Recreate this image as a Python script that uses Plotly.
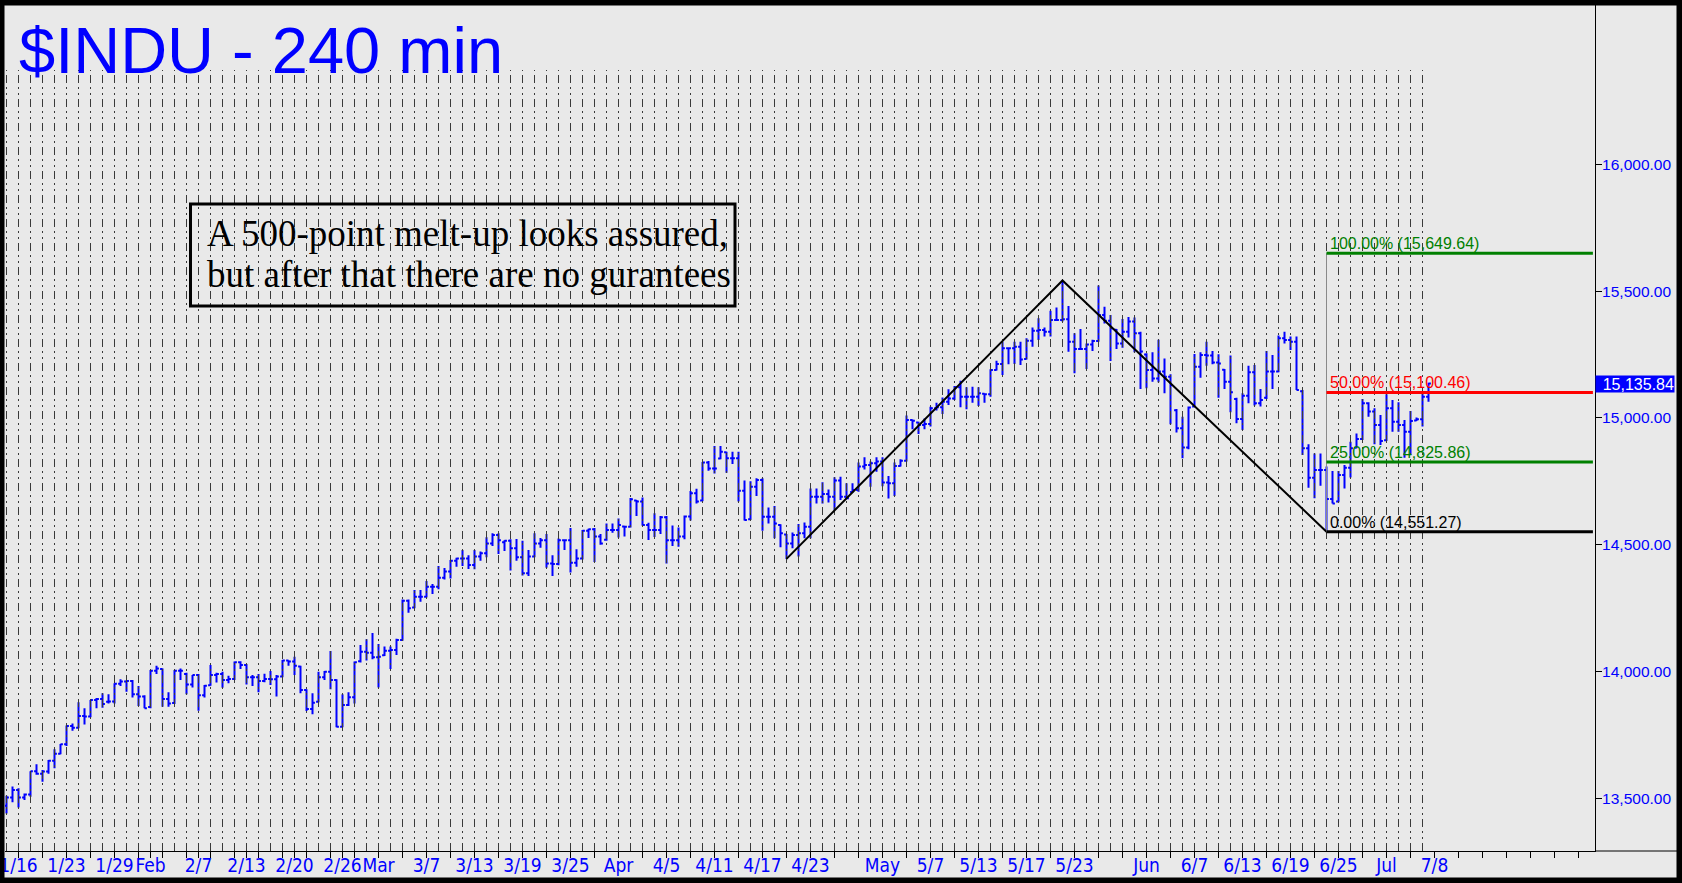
import plotly.graph_objects as go

# ------------------------------------------------------------------ data
# 240-minute OHLC bars ($INDU), two bars per trading day, 1/15 .. 7/5
OPEN = [13470, 13503, 13532, 13503, 13515, 13606, 13596, 13605, 13648, 13675,
        13713, 13785, 13778, 13824, 13822, 13887, 13891, 13880, 13881, 13951,
        13960, 13962, 13910, 13901, 13860, 14003, 14010, 13891, 13876, 14003,
        13990, 13949, 13986, 13906, 13946, 13986, 13990, 13966, 13970, 14036,
        14025, 13977, 13977, 13962, 13970, 13969, 13980, 14043, 14039, 14020,
        13927, 13852, 13880, 13977, 13999, 13966, 13782, 13868, 13898, 14040,
        14078, 14074, 14056, 14064, 14082, 14085, 14124, 14279, 14252, 14295,
        14295, 14334, 14334, 14370, 14394, 14437, 14446, 14446, 14420, 14453,
        14466, 14505, 14538, 14510, 14516, 14486, 14450, 14387, 14453, 14505,
        14518, 14426, 14424, 14518, 14518, 14429, 14446, 14555, 14561, 14532,
        14520, 14558, 14558, 14572, 14571, 14674, 14670, 14578, 14558, 14558,
        14608, 14518, 14518, 14532, 14611, 14703, 14674, 14824, 14801, 14840,
        14865, 14841, 14841, 14713, 14600, 14729, 14755, 14610, 14610, 14578,
        14540, 14505, 14538, 14545, 14571, 14689, 14689, 14700, 14689, 14753,
        14689, 14708, 14716, 14808, 14814, 14821, 14828, 14745, 14742, 14810,
        14831, 14992, 14982, 14972, 14976, 15038, 15042, 15064, 15077, 15121,
        15084, 15084, 15084, 15095, 15093, 15189, 15213, 15275, 15275, 15281,
        15233, 15305, 15344, 15347, 15340, 15386, 15386, 15389, 15301, 15272,
        15272, 15290, 15304, 15406, 15383, 15348, 15294, 15340, 15380, 15334,
        15250, 15189, 15156, 15183, 15163, 15030, 14959, 14883, 15045, 15202,
        15248, 15246, 15219, 15190, 15143, 15075, 14996, 15088, 15180, 15058,
        15080, 15183, 15183, 15314, 15307, 15301, 15105, 14880, 14764, 14795,
        14795, 14680, 14670, 14775, 14804, 14882, 14917, 15058, 15025, 14972,
        14912, 15038, 14985, 14972, 14946, 14990, 14995, 15084]

HIGH = [13510, 13546, 13539, 13519, 13606, 13634, 13611, 13651, 13693, 13714,
        13787, 13795, 13878, 13855, 13887, 13895, 13914, 13910, 13953, 13969,
        13965, 13966, 13943, 13906, 14006, 14022, 14012, 13918, 14006, 14012,
        13995, 13986, 13990, 13947, 14025, 13995, 13999, 13983, 14039, 14040,
        14029, 13986, 13990, 13991, 14002, 13986, 14045, 14044, 14058, 14022,
        13930, 13914, 13999, 14002, 14081, 13969, 13910, 13918, 14039, 14104,
        14127, 14152, 14108, 14098, 14098, 14129, 14284, 14284, 14321, 14321,
        14357, 14345, 14416, 14408, 14440, 14449, 14479, 14458, 14479, 14473,
        14529, 14545, 14545, 14518, 14521, 14522, 14516, 14479, 14545, 14526,
        14542, 14458, 14524, 14521, 14566, 14482, 14558, 14563, 14566, 14542,
        14584, 14584, 14603, 14574, 14684, 14676, 14686, 14587, 14624, 14613,
        14613, 14576, 14568, 14615, 14712, 14721, 14826, 14830, 14889, 14889,
        14867, 14867, 14867, 14753, 14750, 14762, 14762, 14647, 14653, 14581,
        14542, 14548, 14582, 14588, 14722, 14722, 14746, 14718, 14766, 14768,
        14742, 14742, 14824, 14845, 14828, 14845, 14845, 14771, 14824, 14837,
        15010, 14994, 14985, 14998, 15044, 15060, 15081, 15113, 15126, 15147,
        15121, 15123, 15121, 15097, 15192, 15226, 15301, 15279, 15301, 15301,
        15314, 15357, 15393, 15357, 15423, 15436, 15542.40, 15442, 15334, 15351,
        15294, 15308, 15522, 15439, 15406, 15351, 15390, 15398, 15396, 15340,
        15255, 15259, 15308, 15235, 15172, 15035, 15005, 15045, 15252, 15259,
        15301, 15264, 15251, 15193, 15246, 15080, 15097, 15206, 15209, 15114,
        15264, 15248, 15325, 15340, 15321, 15321, 15110, 14896, 14860, 14860,
        14808, 14791, 14791, 14814, 14906, 14939, 15075, 15062, 15038, 15012,
        15093, 15071, 15062, 14992, 15027, 15002, 15104, 15139]

LOW = [13440, 13484, 13463, 13493, 13506, 13592, 13565, 13596, 13618, 13673,
       13706, 13766, 13776, 13791, 13819, 13855, 13857, 13874, 13874, 13943,
       13920, 13897, 13864, 13855, 13855, 13990, 13861, 13861, 13872, 13966,
       13910, 13937, 13845, 13897, 13944, 13956, 13936, 13953, 13966, 14010,
       13949, 13943, 13918, 13957, 13947, 13901, 13977, 14022, 13986, 13914,
       13844, 13831, 13878, 13966, 13930, 13780, 13780, 13864, 13874, 14035,
       14043, 14048, 13937, 14061, 14010, 14065, 14121, 14232, 14249, 14275,
       14292, 14306, 14324, 14363, 14367, 14413, 14416, 14404, 14403, 14437,
       14450, 14495, 14463, 14475, 14398, 14437, 14378, 14377, 14450, 14488,
       14409, 14377, 14419, 14479, 14390, 14413, 14442, 14526, 14432, 14500,
       14516, 14547, 14528, 14532, 14568, 14613, 14575, 14519, 14530, 14542,
       14426, 14495, 14492, 14521, 14595, 14663, 14671, 14792, 14781, 14837,
       14784, 14818, 14670, 14595, 14597, 14692, 14555, 14584, 14525, 14490,
       14444.03, 14486, 14453, 14525, 14525, 14663, 14663, 14666, 14637, 14676,
       14679, 14705, 14709, 14797, 14729, 14788, 14731, 14682, 14692, 14808,
       14828, 14955, 14937, 14955, 14966, 15029, 15016, 15051, 15071, 15042,
       15034, 15060, 15047, 15060, 15084, 15187, 15169, 15212, 15213, 15209,
       15231, 15281, 15307, 15321, 15321, 15384, 15380, 15261, 15176, 15268,
       15193, 15264, 15301, 15373, 15225, 15272, 15277, 15317, 15259, 15114,
       15117, 15143, 15141, 15097, 14975, 14943, 14841, 14877, 15041, 15159,
       15206, 15212, 15080, 15114, 15022, 14979, 14952, 15058, 15049, 15045,
       15075, 15114, 15180, 15294, 15268, 15110, 14854, 14725, 14683, 14733,
       14551.27, 14663, 14667, 14722, 14765, 14880, 14913, 15005, 14896, 14893,
       14909, 14946, 14946, 14843, 14854, 14988, 14966, 15064]

CLOSE = [13503, 13532, 13503, 13515, 13606, 13596, 13605, 13648, 13675, 13713,
         13785, 13778, 13824, 13822, 13887, 13891, 13872, 13881, 13951, 13960,
         13962, 13910, 13901, 13855, 14003, 14012, 13891, 13874, 14003, 14003,
         13949, 13986, 13906, 13944, 13986, 13990, 13966, 13970, 14036, 14025,
         13977, 13977, 13962, 13970, 13969, 13980, 14043, 14039, 14022, 13927,
         13852, 13877, 13977, 13999, 13966, 13782, 13868, 13898, 14036, 14078,
         14074, 14056, 14058, 14082, 14085, 14124, 14279, 14249, 14295, 14295,
         14334, 14334, 14370, 14394, 14437, 14446, 14446, 14420, 14453, 14466,
         14505, 14538, 14518, 14516, 14486, 14450, 14387, 14453, 14505, 14518,
         14426, 14424, 14518, 14518, 14429, 14446, 14555, 14561, 14532, 14505,
         14558, 14558, 14578, 14571, 14679, 14670, 14578, 14558, 14558, 14608,
         14518, 14518, 14532, 14611, 14703, 14670, 14824, 14801, 14801, 14867,
         14841, 14841, 14713, 14597, 14729, 14755, 14610, 14610, 14584, 14545,
         14505, 14538, 14545, 14571, 14689, 14689, 14700, 14689, 14753, 14689,
         14683, 14716, 14808, 14814, 14821, 14828, 14745, 14742, 14810, 14831,
         14992, 14989, 14972, 14976, 15038, 15042, 15064, 15077, 15121, 15084,
         15084, 15084, 15097, 15093, 15189, 15213, 15275, 15275, 15281, 15231,
         15305, 15344, 15347, 15340, 15386, 15386, 15389, 15301, 15272, 15272,
         15290, 15304, 15406, 15383, 15354, 15294, 15340, 15380, 15334, 15262,
         15189, 15156, 15183, 15163, 15130, 14959, 14883, 15041, 15202, 15248,
         15246, 15219, 15215, 15143, 15101, 14996, 15088, 15180, 15058, 15071,
         15183, 15183, 15314, 15307, 15301, 15110, 14880, 14764, 14795, 14795,
         14680, 14663, 14775, 14804, 14880, 14917, 15058, 15025, 14972, 14909,
         15038, 14985, 14972, 14946, 14988, 14995, 15084, 15135.84]

BARS_PER_DAY = 2

# x-axis labels: trading-day index (0 = 1/15) and text
TICK_DAYS = [1, 5, 9, 12, 16, 20, 24, 28, 31, 35, 39, 43, 47, 51, 55, 59, 63, 67,
             73, 77, 81, 85, 89, 95, 99, 103, 107, 111, 115, 119]
TICK_TEXT = ["1/16", "1/23", "1/29", "Feb", "2/7", "2/13", "2/20", "2/26", "Mar",
             "3/7", "3/13", "3/19", "3/25", "Apr", "4/5", "4/11", "4/17", "4/23",
             "May", "5/7", "5/13", "5/17", "5/23", "Jun", "6/7", "6/13", "6/19",
             "6/25", "Jul", "7/8"]

Y_TICKS = [13500, 14000, 14500, 15000, 15500, 16000]

# ABC pivots (bar index): A low, B high, C low
PIVOTS = [130, 176, 220]

FIB_PCT = ["100.00%", "50.00%", "25.00%", "0.00%"]
FIB_VALUES = [15649.64, 15100.46, 14825.86, 14551.27]
FIB_COLORS = ["#008000", "#ff0000", "#008000", "#000000"]

LAST_PRICE = 15135.84

TITLE = "$INDU - 240 min"
NOTE_LINES = ["A 500-point melt-up looks assured,",
              "but after that there are no gurantees"]

# ------------------------------------------------------------------ geometry
W, H = 1682, 883
ML, MR, MT, MB = 5, 87, 5, 32
PW, PH = W - ML - MR, H - MT - MB
XR = [-0.25, 264.75]
YR = [13291.7, 16629.0]
BG = "#e9e9e9"
BLUE = "#0000ff"


def px_x(px):
    return (px - ML) / PW


def px_y(py):
    return (H - MB - py) / PH


def val_at_py(py):
    return YR[1] - (py - MT) / PH * (YR[1] - YR[0])


x_bars = list(range(len(CLOSE)))
n_days = len(CLOSE) // BARS_PER_DAY

fig = go.Figure()

# dashed day separators (one per trading day with data)
grid_top = val_at_py(70)
gx, gy = [], []
for d in range(n_days):
    gx += [d * BARS_PER_DAY, d * BARS_PER_DAY, None]
    gy += [YR[0], grid_top, None]
fig.add_trace(go.Scatter(
    x=gx, y=gy, mode="lines", hoverinfo="skip",
    line=dict(color="#3a3a3a", width=1, dash="8px,4px,2px,4px,2px,4px")))

# price bars
fig.add_trace(go.Ohlc(
    x=x_bars, open=OPEN, high=HIGH, low=LOW, close=CLOSE,
    increasing=dict(line=dict(color=BLUE, width=2)),
    decreasing=dict(line=dict(color=BLUE, width=2)),
    tickwidth=0.4, hoverinfo="skip"))

# ABC trend lines
fig.add_trace(go.Scatter(
    x=PIVOTS,
    y=[LOW[PIVOTS[0]], HIGH[PIVOTS[1]], LOW[PIVOTS[2]]],
    mode="lines", line=dict(color="black", width=2), hoverinfo="skip"))

shapes = []
annotations = []

# fib projection vertical connector
shapes.append(dict(type="line", xref="x", yref="y",
                   x0=PIVOTS[2], x1=PIVOTS[2],
                   y0=FIB_VALUES[-1], y1=FIB_VALUES[0],
                   line=dict(color="#8a8a8a", width=1)))
for pct, v, c in zip(FIB_PCT, FIB_VALUES, FIB_COLORS):
    shapes.append(dict(type="line", xref="x", yref="y",
                       x0=PIVOTS[2], x1=XR[1] - 0.35, y0=v, y1=v,
                       line=dict(color=c, width=3)))
    annotations.append(dict(
        x=PIVOTS[2], y=v, xref="x", yref="y", xanchor="left", yanchor="bottom",
        text=f"{pct} ({v:,.2f})", showarrow=False, xshift=1, yshift=-1,
        font=dict(family="Liberation Sans, Arial", size=16, color=c)))

# note box
shapes.append(dict(type="rect", xref="paper", yref="paper",
                   x0=px_x(190.5), x1=px_x(735), y0=px_y(306), y1=px_y(204),
                   line=dict(color="black", width=3), fillcolor="rgba(0,0,0,0)"))
for line_txt, cy in zip(NOTE_LINES, [233.5, 274.5]):
    annotations.append(dict(
        x=px_x(205), y=px_y(cy), xref="paper", yref="paper",
        xanchor="left", yanchor="middle", text=line_txt, showarrow=False,
        font=dict(family="Liberation Serif, Times New Roman, serif", size=37,
                  color="black")))

# title
annotations.append(dict(
    x=px_x(17), y=px_y(50), xref="paper", yref="paper", xanchor="left",
    yanchor="middle", text=TITLE, showarrow=False,
    font=dict(family="Liberation Sans, Arial", size=65, color=BLUE)))

# last price marker
annotations.append(dict(
    x=1, y=LAST_PRICE, xref="paper", yref="y", xanchor="left", yanchor="middle",
    text=f"{LAST_PRICE:,.2f}", showarrow=False, bgcolor=BLUE, align="right",
    width=78, height=16, borderpad=0,
    font=dict(family="Liberation Sans, Arial", size=16, color="white")))

# x axis line continues under the price scale
shapes.append(dict(type="line", xref="paper", yref="paper",
                   x0=1, x1=px_x(1677), y0=0, y1=0,
                   line=dict(color="black", width=1)))
# black outer frame
shapes.append(dict(type="rect", xref="paper", yref="paper",
                   x0=px_x(-1), x1=px_x(W), y0=px_y(H), y1=px_y(0),
                   line=dict(color="black", width=11),
                   fillcolor="rgba(0,0,0,0)"))

fig.update_layout(
    width=W, height=H,
    margin=dict(l=ML, r=MR, t=MT, b=MB, pad=0, autoexpand=False),
    paper_bgcolor=BG, plot_bgcolor=BG,
    showlegend=False,
    shapes=shapes, annotations=annotations,
    xaxis=dict(
        range=XR, showgrid=False, zeroline=False, automargin=False,
        showline=True, linecolor="black", linewidth=1,
        rangeslider=dict(visible=False),
        tickmode="array", tickangle=0, ticklabeloverflow="allow",
        ticklabelstandoff=-9,
        tickvals=[d * BARS_PER_DAY for d in TICK_DAYS], ticktext=TICK_TEXT,
        ticks="outside", ticklen=6, tickcolor="black",
        minor=dict(tick0=TICK_DAYS[-1] * BARS_PER_DAY, dtick=2 * BARS_PER_DAY,
                   ticks="outside", ticklen=6, tickcolor="black", showgrid=False),
        tickfont=dict(family="Liberation Sans Narrow, Arial Narrow, DejaVu Sans Condensed, Liberation Sans",
                      size=19, color=BLUE),
    ),
    yaxis=dict(
        range=YR, side="right", showgrid=False, zeroline=False, automargin=False,
        showline=True, linecolor="black", linewidth=1,
        tickvals=Y_TICKS, tickformat=",.2f", ticklabeloverflow="allow",
        ticks="outside", ticklen=6, tickcolor="black", ticklabelstandoff=-3,
        tickfont=dict(family="Liberation Sans, Arial", size=15.5, color=BLUE),
    ),
)

fig.write_html("out.html", config={"displayModeBar": False},
               post_script="document.body.style.margin='0';document.body.style.overflow='hidden';")
